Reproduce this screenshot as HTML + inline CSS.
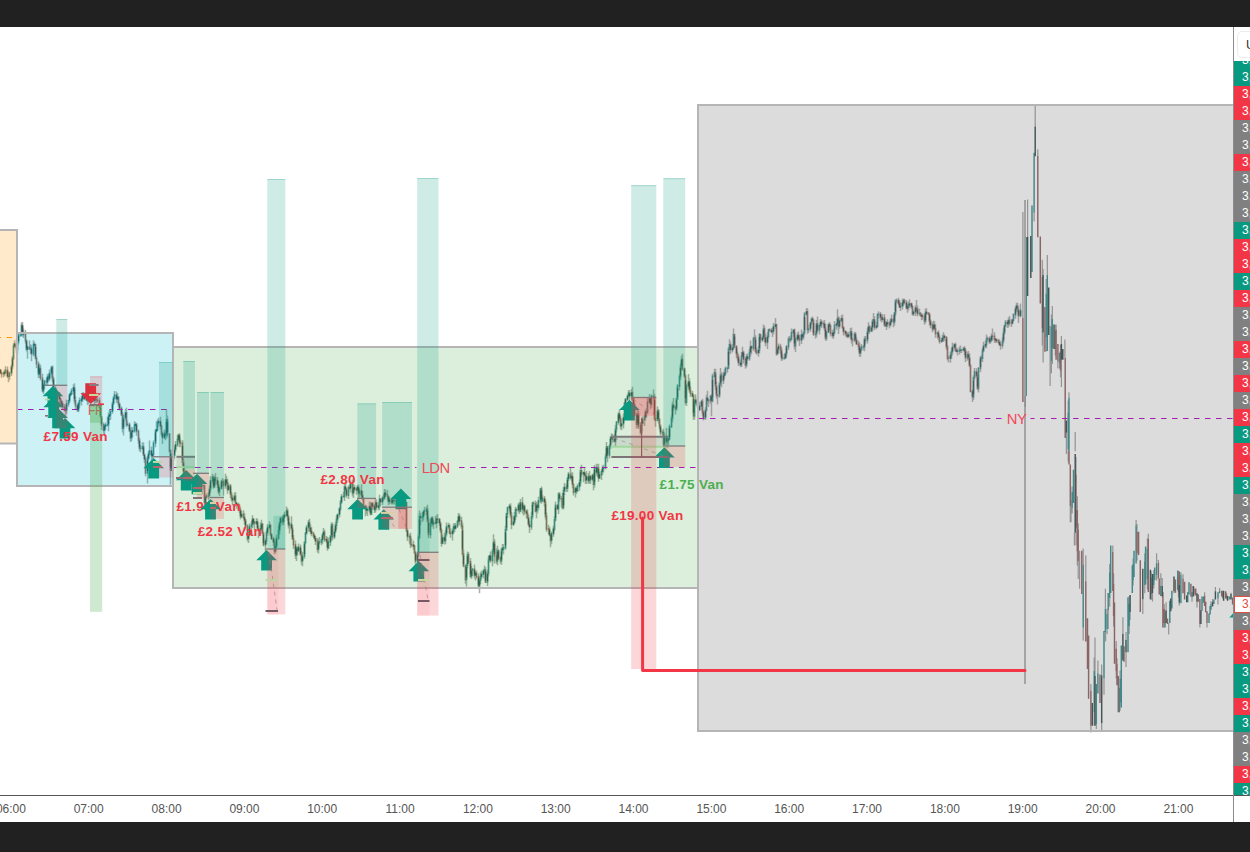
<!DOCTYPE html>
<html><head><meta charset="utf-8"><title>chart</title>
<style>
html,body{margin:0;padding:0;}
body{width:1250px;height:852px;position:relative;overflow:hidden;background:#fff;font-family:"Liberation Sans",sans-serif;}
#top{position:absolute;left:0;top:0;width:1250px;height:27px;background:#212121;}
#bot{position:absolute;left:0;top:822px;width:1250px;height:30px;background:#212121;}
#chart{position:absolute;left:0;top:27px;width:1233px;height:768px;overflow:hidden;}
#chart svg{position:absolute;left:0;top:-27px;}
#vline{position:absolute;left:1233px;top:27px;width:1px;height:795px;background:#8c8c8c;}
#hline{position:absolute;left:0;top:795px;width:1250px;height:1px;background:#555;}
#paxis{position:absolute;left:1234px;top:27px;width:16px;height:768px;overflow:hidden;background:#fff;}
.pl{position:absolute;left:0;width:40px;height:17px;line-height:16px;font-size:12px;color:#fff;padding-left:8px;box-sizing:border-box;white-space:nowrap;}
.pl.cur{background:#fff;color:#e0503f;border:1px solid #e0503f;line-height:14px;padding-left:7px;}
#usd{position:absolute;left:2.5px;top:3.5px;width:40px;height:27px;border:1px solid #ececee;border-radius:5px;box-sizing:border-box;font-size:12.5px;line-height:26px;color:#2e2e2e;padding-left:8.6px;background:#fff;}
.tl{position:absolute;top:797px;width:40px;height:24px;line-height:24px;text-align:center;font-size:12px;color:#555;}
</style></head><body>
<div id="chart"><svg width="1233" height="852" viewBox="0 0 1233 852" font-family="Liberation Sans, sans-serif">
<path d="M0.5 369.0V374.1M1.5 371.6V377.7M3.5 371.4V377.3M4.5 369.7V376.2M5.5 366.3V374.3M7.5 366.5V377.8M8.5 372.1V382.3M9.5 371.8V380.0M11.5 364.8V376.1M12.5 355.8V368.9M13.5 343.5V359.9M14.5 340.4V347.5M16.5 339.0V353.0M17.5 340.7V353.3M18.5 333.4V344.4M20.5 332.9V337.0M21.5 322.3V336.3M22.5 322.1V336.8M23.5 328.8V338.1M25.5 330.1V343.6M26.5 339.3V351.5M27.5 345.5V358.7M29.5 340.6V349.8M30.5 344.1V353.9M31.5 345.0V361.3M33.5 340.3V356.3M34.5 342.0V347.3M35.5 343.8V359.6M36.5 356.2V368.2M38.5 361.3V377.9M39.5 363.8V378.0M40.5 364.7V380.4M42.5 373.8V392.5M43.5 383.5V394.0M44.5 379.7V388.7M46.5 377.6V385.4M47.5 374.1V385.6M48.5 373.5V380.9M49.5 369.5V381.3M51.5 366.2V377.8M52.5 365.4V382.3M53.5 376.6V391.2M55.5 385.6V394.3M56.5 388.7V396.7M57.5 391.3V397.4M59.5 392.0V403.0M60.5 397.7V404.7M61.5 399.6V406.3M62.5 401.3V408.9M64.5 404.0V411.5M65.5 406.7V417.3M66.5 399.7V414.1M68.5 399.8V406.7M69.5 393.4V403.1M70.5 391.5V396.6M71.5 388.2V394.7M73.5 384.3V394.8M74.5 383.2V403.9M75.5 396.3V409.6M77.5 403.7V412.0M78.5 401.7V412.3M79.5 397.6V407.8M81.5 396.2V405.6M82.5 392.5V402.1M83.5 392.0V399.6M84.5 396.3V400.3M86.5 397.1V400.9M87.5 397.8V404.9M88.5 397.6V404.2M90.5 396.8V402.9M91.5 396.5V402.7M92.5 396.3V402.3M94.5 398.0V404.9M95.5 397.2V403.1M96.5 397.1V403.1M97.5 397.2V403.1M99.5 397.3V408.8M100.5 403.1V417.8M101.5 415.8V429.9M103.5 422.4V433.5M104.5 423.9V434.6M105.5 422.4V430.0M107.5 416.8V426.4M108.5 412.6V431.3M109.5 409.7V420.0M110.5 410.2V420.0M112.5 401.8V413.7M113.5 395.9V405.2M114.5 391.1V399.2M116.5 391.4V402.9M117.5 393.0V403.3M118.5 396.3V406.7M119.5 402.5V410.5M121.5 406.4V416.0M122.5 412.0V432.5M123.5 414.7V435.6M125.5 408.9V420.9M126.5 407.7V427.3M127.5 420.7V426.3M129.5 422.7V431.9M130.5 428.5V441.9M131.5 427.1V441.2M132.5 427.3V437.6M134.5 421.2V432.7M135.5 422.0V426.6M136.5 422.9V435.8M138.5 429.4V443.8M139.5 437.5V451.2M140.5 445.0V452.3M142.5 442.2V450.1M143.5 442.4V455.9M144.5 453.6V463.1M145.5 457.3V476.3M147.5 456.1V483.6M148.5 451.0V460.5M149.5 440.5V455.2M151.5 446.6V462.3M152.5 453.1V459.3M153.5 440.4V457.1M155.5 429.0V447.3M156.5 421.3V432.8M157.5 419.5V431.0M158.5 417.7V426.7M160.5 416.7V429.4M161.5 424.8V436.1M162.5 431.6V444.0M164.5 429.6V438.9M165.5 430.5V440.3M166.5 409.5V438.8M167.5 415.6V437.2M169.5 433.3V453.1M170.5 449.2V484.7M171.5 452.9V471.3M173.5 452.6V461.2M174.5 446.3V458.6M175.5 441.0V452.2M177.5 435.1V446.7M178.5 433.7V440.8M179.5 433.3V447.3M180.5 439.6V446.8M182.5 440.3V465.4M183.5 458.9V474.2M184.5 467.8V476.3M186.5 473.7V477.4M187.5 474.8V482.0M188.5 476.0V482.7M190.5 476.7V483.3M191.5 477.5V484.0M192.5 478.2V484.0M193.5 478.3V487.6M195.5 482.0V487.6M196.5 482.1V487.3M197.5 481.9V486.9M199.5 481.7V486.6M200.5 481.4V486.3M201.5 481.2V489.5M203.5 484.6V489.2M204.5 484.4V504.9M205.5 494.8V505.0M206.5 493.6V498.2M208.5 491.9V500.5M209.5 485.5V498.8M210.5 476.3V492.3M212.5 473.7V482.9M213.5 475.4V488.7M214.5 475.6V487.7M215.5 473.1V484.3M217.5 476.9V488.1M218.5 480.8V494.3M219.5 487.3V496.0M221.5 479.8V489.6M222.5 477.9V486.3M223.5 479.4V495.6M225.5 473.8V488.8M226.5 476.1V485.3M227.5 478.7V493.7M228.5 482.7V490.6M230.5 484.0V498.1M231.5 491.8V501.4M232.5 495.2V505.6M234.5 492.7V502.0M235.5 492.0V504.4M236.5 502.1V508.7M238.5 502.8V510.0M239.5 504.2V512.9M240.5 507.3V519.3M241.5 511.2V518.1M243.5 510.2V518.5M244.5 513.1V524.3M245.5 519.1V529.4M247.5 524.3V541.2M248.5 532.2V543.0M249.5 523.5V535.9M251.5 521.0V530.7M252.5 515.2V528.1M253.5 518.0V525.4M254.5 520.9V529.3M256.5 517.9V524.9M257.5 519.0V529.8M258.5 525.6V537.9M260.5 522.2V533.8M261.5 519.7V532.6M262.5 522.9V535.3M263.5 531.4V546.2M265.5 538.3V553.3M266.5 529.8V544.3M267.5 524.0V535.7M269.5 521.3V529.8M270.5 524.0V536.1M271.5 532.9V539.8M273.5 536.7V546.1M274.5 539.4V554.3M275.5 543.0V553.6M276.5 534.7V548.2M278.5 526.3V539.8M279.5 521.8V534.9M280.5 516.7V526.7M282.5 515.6V524.9M283.5 514.0V525.3M284.5 511.8V518.6M286.5 506.6V516.2M287.5 508.0V520.7M288.5 515.2V528.4M289.5 522.1V533.6M291.5 516.3V530.5M292.5 525.3V540.1M293.5 535.0V549.1M295.5 540.5V558.9M296.5 546.7V561.0M297.5 546.4V555.3M298.5 543.6V552.2M300.5 544.4V555.6M301.5 551.1V564.7M302.5 552.0V566.3M304.5 541.5V558.7M305.5 531.9V544.5M306.5 525.3V534.8M308.5 519.9V531.7M309.5 518.8V531.7M310.5 524.3V534.2M311.5 527.0V536.3M313.5 531.7V537.4M314.5 533.9V539.4M315.5 536.0V545.0M317.5 538.1V552.5M318.5 538.4V553.6M319.5 537.0V544.2M321.5 538.8V545.3M322.5 533.5V544.1M323.5 527.9V538.6M324.5 529.7V542.1M326.5 536.0V543.2M327.5 537.1V550.7M328.5 537.7V548.9M330.5 535.1V546.0M331.5 522.2V539.6M332.5 522.7V540.6M334.5 528.7V538.9M335.5 521.7V533.0M336.5 515.4V529.4M337.5 513.6V523.1M339.5 507.0V517.6M340.5 500.1V510.9M341.5 494.0V503.9M343.5 491.8V497.6M344.5 483.2V500.9M345.5 482.7V492.7M346.5 488.1V497.8M348.5 485.8V499.0M349.5 484.6V490.3M350.5 481.5V492.6M352.5 479.5V496.6M353.5 483.7V498.0M354.5 485.0V491.3M356.5 487.4V494.7M357.5 484.9V491.1M358.5 484.4V497.6M359.5 487.5V498.3M361.5 484.2V497.9M362.5 491.0V500.6M363.5 497.3V507.9M365.5 504.7V516.3M366.5 505.6V513.9M367.5 506.9V516.0M369.5 501.5V512.1M370.5 502.3V515.6M371.5 502.0V515.0M372.5 502.0V510.1M374.5 504.1V512.9M375.5 499.3V512.6M376.5 499.5V509.4M378.5 502.1V510.3M379.5 494.7V510.2M380.5 498.0V506.6M382.5 496.2V504.9M383.5 494.6V500.3M384.5 489.1V499.7M385.5 489.5V497.0M387.5 490.0V500.5M388.5 495.6V505.3M389.5 497.4V504.2M391.5 497.8V504.5M392.5 497.3V504.3M393.5 496.8V504.7M394.5 496.7V504.5M396.5 496.6V504.2M397.5 500.0V503.9M398.5 499.7V503.5M400.5 499.5V503.0M401.5 499.1V505.9M402.5 498.5V505.3M404.5 498.0V505.0M405.5 501.4V505.3M406.5 501.8V531.9M407.5 528.5V541.1M409.5 533.7V543.6M410.5 532.8V548.0M411.5 538.2V547.3M413.5 540.7V549.7M414.5 544.7V553.7M415.5 550.9V565.1M417.5 551.7V566.3M418.5 534.3V556.7M419.5 510.5V539.2M420.5 512.8V525.3M422.5 512.0V521.9M423.5 509.9V520.6M424.5 506.9V514.4M426.5 506.5V515.3M427.5 504.8V522.8M428.5 517.3V538.0M430.5 519.1V538.4M431.5 516.8V526.7M432.5 516.2V526.7M433.5 520.2V529.0M435.5 516.1V524.6M436.5 515.4V528.3M437.5 514.0V522.9M439.5 518.3V526.2M440.5 521.7V532.9M441.5 528.4V546.7M442.5 534.8V544.3M444.5 532.8V544.6M445.5 530.1V544.3M446.5 522.5V536.5M448.5 522.7V528.8M449.5 523.8V534.3M450.5 528.6V537.8M452.5 528.4V540.6M453.5 523.5V534.3M454.5 523.0V532.3M455.5 523.0V529.8M457.5 520.0V528.0M458.5 512.9V525.5M459.5 513.7V525.3M461.5 516.8V529.0M462.5 522.6V555.8M463.5 549.5V567.2M465.5 564.6V583.8M466.5 563.5V586.6M467.5 551.6V568.3M468.5 551.9V563.9M470.5 558.1V578.0M471.5 566.0V579.0M472.5 568.2V575.9M474.5 564.4V578.4M475.5 570.9V580.6M476.5 570.5V578.8M478.5 573.6V587.2M479.5 576.7V593.3M480.5 572.2V584.1M481.5 570.7V579.5M483.5 569.1V578.3M484.5 565.6V572.6M485.5 567.0V583.0M487.5 569.7V585.9M488.5 555.9V576.5M489.5 554.7V562.5M490.5 551.4V562.5M492.5 549.0V566.3M493.5 534.3V555.4M494.5 538.9V563.6M496.5 548.2V563.9M497.5 545.7V565.3M498.5 549.3V559.9M500.5 556.4V564.0M501.5 547.6V564.8M502.5 544.1V553.3M503.5 544.3V554.6M505.5 525.7V549.8M506.5 512.8V531.1M507.5 506.5V518.1M509.5 504.1V511.6M510.5 503.3V518.1M511.5 511.9V529.3M513.5 516.2V526.0M514.5 511.9V524.0M515.5 506.7V520.1M516.5 507.8V517.3M518.5 502.9V512.6M519.5 502.1V514.0M520.5 499.1V512.0M522.5 497.0V513.6M523.5 505.0V515.6M524.5 504.6V514.4M526.5 509.4V518.3M527.5 509.3V519.3M528.5 514.5V525.5M529.5 520.7V532.9M531.5 512.3V530.1M532.5 501.7V519.3M533.5 501.3V506.0M535.5 500.6V512.4M536.5 502.1V518.3M537.5 501.6V513.6M538.5 496.7V510.4M540.5 488.0V503.1M541.5 486.4V503.7M542.5 494.9V501.9M544.5 495.9V506.4M545.5 499.2V519.6M546.5 512.5V531.7M548.5 524.7V534.0M549.5 526.7V536.3M550.5 533.2V547.3M551.5 531.4V544.3M553.5 525.6V536.8M554.5 516.3V530.9M555.5 501.5V521.5M557.5 504.0V509.9M558.5 492.4V513.9M559.5 492.0V502.1M561.5 496.1V507.6M562.5 492.8V509.6M563.5 487.0V509.3M564.5 482.9V495.0M566.5 483.7V492.1M567.5 476.9V492.0M568.5 471.9V481.0M570.5 468.1V479.4M571.5 472.5V481.0M572.5 472.3V488.3M573.5 483.4V495.4M575.5 486.9V497.6M576.5 485.9V494.0M577.5 483.8V492.1M579.5 479.5V490.7M580.5 467.0V486.3M581.5 464.7V476.7M583.5 471.5V482.3M584.5 468.2V476.8M585.5 472.8V484.0M586.5 471.1V484.1M588.5 473.0V484.0M589.5 471.0V483.6M590.5 475.5V484.0M592.5 473.8V480.8M593.5 472.9V490.3M594.5 464.9V487.8M596.5 463.8V475.5M597.5 464.3V477.3M598.5 463.7V481.7M599.5 471.7V479.0M601.5 469.7V479.9M602.5 465.6V474.9M603.5 464.7V472.6M605.5 453.7V469.6M606.5 442.0V458.6M607.5 445.9V462.3M609.5 444.4V458.6M610.5 436.1V449.0M611.5 433.3V440.5M612.5 434.1V442.7M614.5 434.2V442.4M615.5 424.8V445.9M616.5 420.9V432.4M618.5 412.2V424.8M619.5 409.6V420.4M620.5 415.5V429.3M621.5 418.5V430.2M623.5 413.5V428.6M624.5 402.3V420.5M625.5 397.9V405.6M627.5 394.2V401.1M628.5 390.3V397.3M629.5 390.0V399.8M631.5 388.9V400.3M632.5 386.7V400.7M633.5 396.8V406.5M634.5 402.7V416.2M636.5 412.5V428.6M637.5 409.1V428.6M638.5 410.6V429.0M640.5 422.0V434.7M641.5 422.4V434.7M642.5 416.4V424.4M644.5 415.0V425.9M645.5 409.4V420.4M646.5 408.8V417.6M647.5 398.3V414.1M649.5 393.9V403.4M650.5 396.7V409.3M651.5 394.4V407.7M653.5 389.6V399.6M654.5 393.7V420.8M655.5 415.0V426.7M657.5 406.6V421.2M658.5 409.0V423.6M659.5 418.1V429.6M660.5 424.2V435.4M662.5 429.8V437.0M663.5 428.8V446.3M664.5 432.7V448.5M666.5 427.7V445.3M667.5 438.7V448.0M668.5 436.8V445.3M669.5 424.4V440.3M671.5 415.5V427.8M672.5 401.6V422.4M673.5 398.0V410.6M675.5 406.3V414.6M676.5 397.2V410.7M677.5 384.1V400.1M679.5 374.0V390.5M680.5 363.7V380.3M681.5 355.8V369.9M682.5 353.7V371.1M684.5 367.5V378.0M685.5 374.5V405.0M686.5 383.6V406.1M688.5 374.1V389.3M689.5 378.3V393.1M690.5 386.4V397.0M692.5 391.0V397.4M693.5 394.6V420.0M694.5 400.6V419.6M695.5 394.3V405.7M697.5 396.7V407.8M698.5 401.7V411.7M699.5 401.9V410.7M701.5 400.2V410.2M702.5 398.8V415.6M703.5 409.9V420.5M705.5 407.2V420.0M706.5 394.7V411.5M707.5 390.7V404.6M708.5 399.3V407.1M710.5 395.0V403.9M711.5 393.9V416.3M712.5 373.5V402.3M714.5 368.8V377.2M715.5 368.8V389.9M716.5 381.6V398.5M717.5 393.9V404.6M719.5 382.2V397.8M720.5 368.1V385.4M721.5 372.0V387.3M723.5 371.8V384.1M724.5 369.2V378.3M725.5 366.6V375.6M727.5 366.5V372.7M728.5 347.1V369.1M729.5 339.3V353.1M730.5 341.4V354.0M732.5 344.2V352.5M733.5 328.5V349.9M734.5 333.5V348.0M736.5 344.9V358.2M737.5 351.5V360.8M738.5 354.3V365.9M740.5 359.4V367.2M741.5 352.1V367.1M742.5 346.8V357.1M743.5 350.8V363.4M745.5 357.3V368.7M746.5 354.1V367.6M747.5 353.4V360.6M749.5 348.8V360.8M750.5 340.6V356.8M751.5 345.5V354.3M753.5 336.8V351.1M754.5 329.3V340.9M755.5 335.2V352.9M756.5 347.7V354.7M758.5 346.0V356.8M759.5 332.9V353.3M760.5 333.4V343.1M762.5 335.8V341.7M763.5 324.6V339.2M764.5 325.7V341.9M765.5 333.8V346.2M767.5 332.0V349.0M768.5 328.7V338.6M769.5 328.2V331.8M771.5 327.8V332.9M772.5 328.2V336.9M773.5 322.9V334.5M775.5 318.0V329.0M776.5 323.7V355.7M777.5 347.4V355.0M778.5 343.5V353.2M780.5 343.8V354.0M781.5 347.1V361.0M782.5 354.2V360.3M784.5 353.7V359.7M785.5 352.4V359.0M786.5 345.0V357.6M788.5 336.7V350.1M789.5 336.1V342.5M790.5 335.6V342.5M791.5 328.6V340.4M793.5 329.3V337.0M794.5 328.4V349.4M795.5 337.0V352.0M797.5 332.6V341.5M798.5 331.4V340.5M799.5 335.1V345.9M801.5 329.6V344.1M802.5 333.3V340.0M803.5 331.1V339.4M804.5 311.9V334.9M806.5 308.1V315.6M807.5 308.2V333.8M808.5 324.8V333.1M810.5 321.8V331.8M811.5 317.5V325.1M812.5 316.4V322.8M813.5 318.5V335.6M815.5 330.9V338.5M816.5 320.0V337.4M817.5 316.4V332.6M819.5 324.6V334.4M820.5 318.9V327.2M821.5 319.7V328.3M823.5 320.7V327.5M824.5 320.1V331.1M825.5 324.1V340.4M826.5 331.1V340.7M828.5 323.1V333.1M829.5 321.9V330.3M830.5 323.7V336.6M832.5 330.1V338.2M833.5 328.8V338.8M834.5 321.1V333.9M836.5 322.8V329.7M837.5 309.2V327.6M838.5 316.0V334.0M839.5 317.6V328.7M841.5 315.2V322.2M842.5 314.5V328.5M843.5 326.5V335.5M845.5 330.0V336.6M846.5 331.2V337.6M847.5 332.3V338.2M848.5 331.8V338.1M850.5 328.1V339.3M851.5 327.4V343.4M852.5 338.5V346.4M854.5 332.1V342.2M855.5 331.7V341.8M856.5 337.2V345.1M858.5 340.6V350.3M859.5 342.3V356.4M860.5 347.9V357.0M861.5 344.0V350.9M863.5 344.9V350.6M864.5 336.3V351.3M865.5 335.9V343.6M867.5 327.8V343.5M868.5 322.3V333.9M869.5 324.7V333.7M871.5 325.7V332.0M872.5 318.9V331.5M873.5 312.9V324.6M874.5 316.1V330.1M876.5 322.1V329.2M877.5 313.5V327.4M878.5 311.3V318.7M880.5 312.0V320.9M881.5 314.6V322.5M882.5 314.1V321.5M884.5 314.3V326.7M885.5 320.7V326.8M886.5 321.3V329.9M887.5 319.2V327.2M889.5 321.5V328.6M890.5 318.3V326.7M891.5 314.5V322.6M893.5 315.4V327.3M894.5 312.0V325.6M895.5 299.3V316.0M896.5 298.4V303.2M898.5 297.7V304.9M899.5 300.0V308.0M900.5 302.3V310.9M902.5 298.7V309.4M903.5 298.4V305.7M904.5 298.7V304.4M906.5 300.1V309.5M907.5 303.9V312.8M908.5 301.5V310.5M909.5 299.3V308.0M911.5 302.6V309.1M912.5 305.2V315.5M913.5 309.9V316.0M915.5 305.2V315.9M916.5 300.1V312.5M917.5 305.4V316.6M919.5 308.6V315.4M920.5 312.1V316.5M921.5 313.3V320.3M922.5 313.7V320.1M924.5 313.5V324.7M925.5 308.5V323.3M926.5 308.2V314.9M928.5 312.2V315.3M929.5 312.8V325.3M930.5 319.2V328.3M932.5 322.3V332.3M933.5 320.7V330.8M934.5 321.2V329.9M935.5 324.3V337.8M937.5 331.7V338.5M938.5 330.2V340.3M939.5 335.0V343.8M941.5 337.9V342.9M942.5 334.6V341.8M943.5 332.2V342.1M944.5 334.6V340.9M946.5 336.0V349.9M947.5 345.1V360.4M948.5 355.7V362.6M950.5 352.1V362.7M951.5 347.7V358.9M952.5 342.8V354.5M954.5 343.3V349.5M955.5 342.6V351.8M956.5 347.7V352.4M957.5 348.2V355.6M959.5 346.4V354.4M960.5 345.5V353.0M961.5 349.0V353.0M963.5 347.0V351.3M964.5 345.9V355.0M965.5 348.0V361.9M967.5 351.5V360.8M968.5 350.9V359.9M969.5 353.2V367.2M970.5 364.3V392.4M972.5 389.5V401.9M973.5 375.2V400.0M974.5 367.9V380.2M976.5 368.2V377.8M977.5 371.8V390.3M978.5 367.3V392.6M980.5 356.0V371.9M981.5 354.8V361.2M982.5 348.1V362.1M983.5 341.8V352.4M985.5 340.6V348.3M986.5 334.6V348.3M987.5 336.5V342.2M989.5 336.6V344.1M990.5 337.8V343.4M991.5 333.2V341.5M992.5 328.4V340.6M994.5 332.2V342.7M995.5 338.1V342.9M996.5 338.4V343.1M998.5 338.7V343.8M999.5 339.5V345.7M1000.5 341.5V349.8M1002.5 337.2V348.5M1003.5 328.4V343.6M1004.5 324.5V334.7M1005.5 319.9V327.1M1007.5 320.0V328.1M1008.5 317.5V327.5M1009.5 316.0V325.8M1011.5 318.8V326.9M1012.5 319.0V324.6M1013.5 313.2V321.0M1015.5 306.6V318.7M1016.5 302.8V312.0M1017.5 302.8V312.6M1018.5 306.2V323.0M1020.5 303.4V317.2" stroke="#9aa09c" stroke-width="1.5" stroke-opacity="0.85" fill="none"/>
<path d="M0.5 369.3V373.8M1.5 372.4V374.5M7.5 369.5V377.2M16.5 343.2V349.7M22.5 324.7V333.2M23.5 331.8V335.2M25.5 333.8V341.3M26.5 339.9V349.9M29.5 346.6V349.5M31.5 347.8V354.4M34.5 343.7V346.0M35.5 344.6V359.0M36.5 357.6V364.6M38.5 363.2V375.0M40.5 367.8V378.8M42.5 377.4V391.6M46.5 380.8V382.8M48.5 376.3V379.6M52.5 366.5V379.4M53.5 378.0V389.0M55.5 387.6V392.6M56.5 391.2V395.8M57.5 394.4V397.1M59.5 395.7V399.7M60.5 398.3V402.2M61.5 400.8V404.4M62.5 403.0V407.6M64.5 406.2V410.8M65.5 409.4V411.2M74.5 386.9V401.4M75.5 400.0V406.3M77.5 404.9V410.7M83.5 395.3V398.0M84.5 396.6V399.3M86.5 397.9V400.6M87.5 399.2V401.6M90.5 399.5V401.0M91.5 399.6V401.4M95.5 398.6V400.2M96.5 398.8V400.8M97.5 399.4V401.5M99.5 400.1V407.9M100.5 406.5V417.5M101.5 416.1V425.7M103.5 424.3V430.9M116.5 394.2V399.7M118.5 396.6V404.7M119.5 403.3V409.2M121.5 407.8V415.4M122.5 414.0V428.9M126.5 412.0V425.3M129.5 423.8V431.6M130.5 430.2V438.6M136.5 423.7V432.2M138.5 430.8V440.9M139.5 439.5V448.9M140.5 447.5V449.1M143.5 446.0V455.6M144.5 454.2V459.8M145.5 458.4V473.7M151.5 449.9V456.4M160.5 420.7V426.8M161.5 425.4V434.2M162.5 432.8V438.3M165.5 432.8V435.8M167.5 419.0V435.0M169.5 433.6V451.5M170.5 450.1V471.0M179.5 434.4V443.4M180.5 442.0V443.9M182.5 442.5V463.1M183.5 461.7V472.6M184.5 471.2V475.4M186.5 474.0V477.1M187.5 475.7V478.8M188.5 477.4V480.1M190.5 478.7V481.4M191.5 480.0V482.7M192.5 481.3V483.3M193.5 481.9V484.0M195.5 482.6V484.6M196.5 483.2V485.0M197.5 483.6V485.3M199.5 483.9V485.6M200.5 484.2V486.0M201.5 484.6V486.3M203.5 484.9V486.6M204.5 485.2V502.9M213.5 476.5V487.4M215.5 477.3V481.1M217.5 479.7V485.5M218.5 484.1V492.4M222.5 480.7V482.7M223.5 481.3V486.6M226.5 479.1V483.7M227.5 482.3V490.3M230.5 485.1V494.9M231.5 493.5V498.9M232.5 497.5V500.8M235.5 495.5V503.8M236.5 502.4V505.1M238.5 503.7V507.1M239.5 505.7V510.6M240.5 509.2V517.2M243.5 513.7V518.2M244.5 516.8V521.0M245.5 519.6V526.9M247.5 525.5V539.3M253.5 518.6V523.2M254.5 521.8V523.9M257.5 521.0V529.5M258.5 528.1V531.2M262.5 523.5V534.0M263.5 532.6V545.5M270.5 524.7V535.1M271.5 533.7V539.5M273.5 538.1V542.8M274.5 541.4V551.7M282.5 517.8V522.6M287.5 509.9V517.5M288.5 516.1V525.8M291.5 523.5V529.2M292.5 527.8V539.5M293.5 538.1V545.5M295.5 544.1V556.0M297.5 547.6V551.3M300.5 546.6V555.3M301.5 553.9V561.4M309.5 521.8V528.7M310.5 527.3V532.0M311.5 530.6V534.1M313.5 532.7V536.4M314.5 535.0V539.1M315.5 537.7V541.7M317.5 540.3V550.0M319.5 541.2V542.9M324.5 531.6V539.9M326.5 538.5V541.6M327.5 540.2V548.6M332.5 524.3V537.6M345.5 486.3V490.1M346.5 488.7V495.9M349.5 486.9V489.0M352.5 483.7V493.7M354.5 487.0V489.7M356.5 488.3V490.8M358.5 486.4V494.3M361.5 490.0V496.0M362.5 494.6V499.3M363.5 497.9V507.2M365.5 505.8V509.5M366.5 508.1V511.0M370.5 505.7V514.6M372.5 502.9V506.9M374.5 505.5V510.3M376.5 502.0V508.1M380.5 498.6V502.6M385.5 492.3V495.6M387.5 494.2V497.3M388.5 495.9V502.3M391.5 499.2V503.2M393.5 499.3V501.1M394.5 499.7V501.6M396.5 500.2V501.9M397.5 500.5V502.3M398.5 500.9V502.6M400.5 501.2V502.7M404.5 501.3V503.1M405.5 501.7V504.0M406.5 502.6V531.3M407.5 529.9V537.6M410.5 535.7V545.1M411.5 543.7V545.7M413.5 544.3V547.1M414.5 545.7V553.4M415.5 552.0V561.9M420.5 516.1V518.3M427.5 508.5V521.8M428.5 520.4V535.2M432.5 517.4V524.7M435.5 521.9V523.9M437.5 518.2V520.0M439.5 518.6V523.9M440.5 522.5V531.2M441.5 529.8V544.0M444.5 536.8V541.3M449.5 524.9V533.5M450.5 532.1V534.2M454.5 526.3V528.9M459.5 515.7V521.7M461.5 520.3V527.0M462.5 525.6V554.5M463.5 553.1V566.6M465.5 565.2V580.2M468.5 554.1V562.3M470.5 560.9V577.0M474.5 568.5V575.9M476.5 572.4V577.5M478.5 576.1V586.6M485.5 569.3V582.7M490.5 555.0V561.2M494.5 541.4V556.6M496.5 555.2V561.7M498.5 549.9V559.0M500.5 557.6V561.6M510.5 505.5V515.8M511.5 514.4V525.0M516.5 508.9V510.7M519.5 504.6V511.4M522.5 501.9V510.0M524.5 505.5V512.2M526.5 510.8V514.1M527.5 512.7V518.4M528.5 517.0V525.2M529.5 523.8V527.5M533.5 502.4V504.3M535.5 502.9V511.7M537.5 504.4V508.1M541.5 488.3V501.6M544.5 497.8V503.1M545.5 501.7V517.0M546.5 515.6V529.7M548.5 528.3V529.9M549.5 528.5V535.7M550.5 534.3V541.3M557.5 504.8V509.6M559.5 493.4V499.5M561.5 498.1V499.6M562.5 498.2V508.3M566.5 486.5V489.1M570.5 473.6V478.5M572.5 475.7V485.1M573.5 483.7V492.9M576.5 487.7V491.5M581.5 470.0V474.4M584.5 472.1V475.9M585.5 474.5V480.8M588.5 475.8V481.4M590.5 475.8V480.2M593.5 474.7V484.9M596.5 466.9V473.3M598.5 467.3V478.7M607.5 446.2V455.7M612.5 436.6V440.0M614.5 438.6V442.1M619.5 413.3V419.2M620.5 417.8V426.6M629.5 392.6V396.5M632.5 392.0V398.8M633.5 397.4V405.2M634.5 403.8V415.6M636.5 414.2V425.1M638.5 413.4V426.7M640.5 425.3V433.1M646.5 411.3V412.8M650.5 397.5V404.8M653.5 395.5V397.3M654.5 395.9V419.2M655.5 417.8V420.9M658.5 410.0V420.3M659.5 418.9V427.0M660.5 425.6V433.5M663.5 431.7V445.0M666.5 435.7V442.4M673.5 404.4V408.0M675.5 406.6V409.4M682.5 358.8V369.5M684.5 368.1V377.0M685.5 375.6V402.9M689.5 381.1V391.2M690.5 389.8V394.5M692.5 393.1V396.8M693.5 395.4V416.4M697.5 399.2V406.2M698.5 404.8V410.4M702.5 400.8V413.0M703.5 411.6V418.5M707.5 397.5V401.0M708.5 399.6V401.6M711.5 395.8V401.4M715.5 371.9V386.7M716.5 385.3V395.9M717.5 394.5V396.5M721.5 374.2V381.2M730.5 344.0V350.5M734.5 334.1V347.4M736.5 346.0V354.6M737.5 353.2V357.9M738.5 356.5V363.6M740.5 362.2V365.5M743.5 351.7V360.1M745.5 358.7V365.7M747.5 356.1V359.3M751.5 346.1V348.8M755.5 337.4V351.9M756.5 350.5V353.6M760.5 334.2V340.4M764.5 328.2V338.3M765.5 336.9V343.3M769.5 329.3V330.9M771.5 329.5V332.6M776.5 324.0V354.4M780.5 345.8V351.0M781.5 349.6V358.7M789.5 338.4V340.5M794.5 329.6V346.5M798.5 334.6V339.6M799.5 338.2V340.8M802.5 333.9V337.4M807.5 311.0V330.2M812.5 318.3V321.8M813.5 320.4V335.2M817.5 323.1V330.7M821.5 321.4V324.6M824.5 323.0V328.9M825.5 327.5V338.8M829.5 323.9V327.1M830.5 325.7V334.0M832.5 332.6V336.3M838.5 317.7V327.1M842.5 318.0V328.2M843.5 326.8V332.3M845.5 330.9V334.1M846.5 332.7V335.6M847.5 334.2V336.9M851.5 331.1V340.5M852.5 339.1V340.6M855.5 333.4V340.9M856.5 339.5V344.8M858.5 343.4V347.0M859.5 345.6V353.8M865.5 338.4V340.7M869.5 325.9V331.7M874.5 318.9V327.9M880.5 313.4V318.0M881.5 316.6V319.9M884.5 317.3V325.7M885.5 324.3V326.5M887.5 321.9V324.6M889.5 323.2V325.4M893.5 318.7V322.7M898.5 299.8V303.9M899.5 302.5V307.7M904.5 299.8V303.1M906.5 301.7V308.8M911.5 302.9V307.5M912.5 306.1V314.6M916.5 307.2V309.9M917.5 308.5V314.2M920.5 312.7V315.8M921.5 314.4V316.7M922.5 315.3V317.2M924.5 315.8V321.7M926.5 311.5V313.9M928.5 312.5V315.0M929.5 313.6V322.0M930.5 320.6V325.7M932.5 324.3V329.5M934.5 324.2V329.3M935.5 327.9V334.2M938.5 332.2V338.1M939.5 336.7V342.0M944.5 335.5V338.3M946.5 336.9V347.9M947.5 346.5V359.1M948.5 357.7V359.1M955.5 343.9V350.8M956.5 349.4V352.1M960.5 349.2V351.1M964.5 347.8V351.4M965.5 350.0V358.5M968.5 354.0V358.3M969.5 356.9V366.3M970.5 364.9V392.1M972.5 390.7V397.4M976.5 371.0V376.5M977.5 375.1V389.1M981.5 356.9V358.9M989.5 337.7V342.2M992.5 335.4V337.0M994.5 335.6V339.8M995.5 338.4V340.7M996.5 339.3V341.5M998.5 340.1V342.8M999.5 341.4V345.4M1000.5 344.0V345.9M1007.5 321.7V324.5M1009.5 319.7V323.6M1011.5 322.2V323.7M1017.5 305.3V310.6M1018.5 309.2V316.6" stroke="#8a6254" stroke-width="1.5" stroke-opacity="0.9" fill="none"/>
<path d="M3.5 372.9V374.5M4.5 371.6V374.3M5.5 369.5V373.0M8.5 375.7V377.2M9.5 372.4V377.1M11.5 365.9V373.8M12.5 357.5V367.3M13.5 345.8V358.9M14.5 343.2V347.2M17.5 341.0V349.7M18.5 334.3V342.4M20.5 334.3V335.7M21.5 324.7V335.7M27.5 346.6V349.9M30.5 347.8V349.5M33.5 343.7V354.4M39.5 367.8V375.0M43.5 384.0V391.6M44.5 380.8V385.4M47.5 376.3V382.8M49.5 372.8V379.6M51.5 366.5V374.2M66.5 403.0V411.2M68.5 400.1V404.4M69.5 394.3V401.5M70.5 393.0V395.7M71.5 390.2V394.4M73.5 386.9V391.6M78.5 402.8V410.7M79.5 400.1V404.2M81.5 398.4V401.5M82.5 395.3V399.8M88.5 399.5V401.6M92.5 399.9V401.4M94.5 398.6V401.3M104.5 425.4V430.9M105.5 424.4V426.8M107.5 424.0V425.8M108.5 415.7V425.4M109.5 414.1V417.1M110.5 410.7V415.5M112.5 402.9V412.1M113.5 397.5V404.3M114.5 394.2V398.9M117.5 396.6V399.7M123.5 417.2V428.9M125.5 412.0V418.6M127.5 423.8V425.3M131.5 430.9V438.6M132.5 430.0V432.3M134.5 424.6V431.4M135.5 423.7V426.0M142.5 446.0V449.1M147.5 457.8V473.7M148.5 453.2V459.2M149.5 449.9V454.6M152.5 453.4V456.4M153.5 442.4V454.8M155.5 430.4V443.8M156.5 429.0V431.8M157.5 422.0V430.4M158.5 420.7V423.4M164.5 432.8V438.3M166.5 419.0V435.8M171.5 456.5V471.0M173.5 454.6V457.9M174.5 448.8V456.0M175.5 444.1V450.2M177.5 438.7V445.5M178.5 434.4V440.1M205.5 496.2V502.9M206.5 495.5V497.6M208.5 494.5V496.9M209.5 488.6V495.9M210.5 479.9V490.0M212.5 476.5V481.3M214.5 477.3V487.4M219.5 487.6V492.4M221.5 480.7V489.0M225.5 479.1V486.6M228.5 485.1V490.3M234.5 495.5V500.8M241.5 513.7V517.2M248.5 533.9V539.3M249.5 525.8V535.3M251.5 523.8V527.2M252.5 518.6V525.2M256.5 521.0V523.9M260.5 528.2V531.2M261.5 523.5V529.6M265.5 540.0V545.5M266.5 532.0V541.4M267.5 526.8V533.4M269.5 524.7V528.2M275.5 545.5V551.7M276.5 537.7V546.9M278.5 530.0V539.1M279.5 522.4V531.4M280.5 517.8V523.8M283.5 516.2V522.6M284.5 514.5V517.6M286.5 509.9V515.9M289.5 523.5V525.8M296.5 547.6V556.0M298.5 546.6V551.3M302.5 555.3V561.4M304.5 541.8V556.7M305.5 532.8V543.2M306.5 526.7V534.2M308.5 521.8V528.1M318.5 541.2V550.0M321.5 539.1V542.9M322.5 534.3V540.5M323.5 531.6V535.7M328.5 541.3V548.6M330.5 535.6V542.7M331.5 524.3V537.0M334.5 531.0V537.6M335.5 524.5V532.4M336.5 518.8V525.9M337.5 513.9V520.2M339.5 507.9V515.3M340.5 501.5V509.3M341.5 495.9V502.9M343.5 495.8V497.3M344.5 486.3V497.2M348.5 486.9V495.9M350.5 483.7V489.0M353.5 487.0V493.7M357.5 486.4V490.8M359.5 490.0V494.3M367.5 509.1V511.0M369.5 505.7V510.5M371.5 502.9V514.6M375.5 502.0V510.3M378.5 505.2V508.1M379.5 498.6V506.6M382.5 497.3V502.6M383.5 497.3V498.7M384.5 492.3V498.7M389.5 499.2V502.3M392.5 499.3V503.2M401.5 501.3V502.7M402.5 501.3V502.7M409.5 535.7V537.6M417.5 553.4V561.9M418.5 536.5V554.8M419.5 516.1V537.9M422.5 515.8V518.3M423.5 510.8V517.2M424.5 510.2V512.2M426.5 508.5V511.6M430.5 522.7V535.2M431.5 517.4V524.1M433.5 521.9V524.7M436.5 518.2V523.9M442.5 536.8V544.0M445.5 533.2V541.3M446.5 526.2V534.6M448.5 524.9V527.6M452.5 530.6V534.2M453.5 526.3V532.0M455.5 525.1V528.9M457.5 520.9V526.5M458.5 515.7V522.3M466.5 564.7V580.2M467.5 554.1V566.1M471.5 569.6V577.0M472.5 568.5V571.0M475.5 572.4V575.9M479.5 579.7V586.6M480.5 575.8V581.1M481.5 573.5V577.2M483.5 570.2V574.9M484.5 569.3V571.6M487.5 572.5V582.7M488.5 559.2V573.9M489.5 555.0V560.6M492.5 550.5V561.2M493.5 541.4V551.9M497.5 549.9V561.7M501.5 549.3V561.6M502.5 547.8V550.7M503.5 547.1V549.2M505.5 529.1V548.5M506.5 513.1V530.5M507.5 507.3V514.5M509.5 505.5V508.7M513.5 521.3V525.0M514.5 515.5V522.7M515.5 508.9V516.9M518.5 504.6V510.7M520.5 501.9V511.4M523.5 505.5V510.0M531.5 515.9V527.5M532.5 502.4V517.3M536.5 504.4V511.7M538.5 500.1V508.1M540.5 488.3V501.5M542.5 497.8V501.6M551.5 533.1V541.3M553.5 527.8V534.5M554.5 519.1V529.2M555.5 504.8V520.5M558.5 493.4V509.6M563.5 490.0V508.3M564.5 486.5V491.4M567.5 478.0V489.1M568.5 473.6V479.4M571.5 475.7V478.5M575.5 487.7V492.9M577.5 485.8V491.5M579.5 482.0V487.2M580.5 470.0V483.4M583.5 472.1V474.4M586.5 475.8V480.8M589.5 475.8V481.4M592.5 474.7V480.2M594.5 466.9V484.9M597.5 467.3V473.3M599.5 474.1V478.7M601.5 470.9V475.5M602.5 467.7V472.3M603.5 466.9V469.1M605.5 456.5V468.3M606.5 446.2V457.9M609.5 445.3V455.7M610.5 437.5V446.7M611.5 436.6V438.9M615.5 428.4V442.1M616.5 421.5V429.8M618.5 413.3V422.9M621.5 423.2V426.6M623.5 416.8V424.6M624.5 402.6V418.2M625.5 398.7V404.0M627.5 395.6V400.1M628.5 392.6V397.0M631.5 392.0V396.5M637.5 413.4V425.1M641.5 422.7V433.1M642.5 418.9V424.1M644.5 416.5V420.3M645.5 411.3V417.9M647.5 401.4V412.8M649.5 397.5V402.8M651.5 395.5V404.8M657.5 410.0V420.9M662.5 431.7V433.5M664.5 435.7V445.0M667.5 439.4V442.4M668.5 437.9V440.8M669.5 426.1V439.3M671.5 417.8V427.5M672.5 404.4V419.2M676.5 398.1V409.4M677.5 385.5V399.5M679.5 376.0V386.9M680.5 366.2V377.4M681.5 358.8V367.6M686.5 385.3V402.9M688.5 381.1V386.7M694.5 402.0V416.4M695.5 399.2V403.4M699.5 405.6V410.4M701.5 400.8V407.0M705.5 409.4V418.5M706.5 397.5V410.8M710.5 395.8V401.6M712.5 375.5V401.4M714.5 371.9V376.9M719.5 383.3V396.5M720.5 374.2V384.7M723.5 374.6V381.2M724.5 372.6V376.0M725.5 367.8V374.0M727.5 367.4V369.2M728.5 348.5V368.8M729.5 344.0V349.9M732.5 347.2V350.5M733.5 334.1V348.6M741.5 355.4V365.5M742.5 351.7V356.8M746.5 356.1V365.7M749.5 351.8V359.3M750.5 346.1V353.2M753.5 337.9V348.8M754.5 337.4V339.3M758.5 349.3V353.6M759.5 334.2V350.7M762.5 337.2V340.4M763.5 328.2V338.6M767.5 335.6V343.3M768.5 329.3V337.0M772.5 330.5V332.6M773.5 325.7V331.9M775.5 324.0V327.1M777.5 348.2V354.4M778.5 345.8V349.6M782.5 357.3V358.7M784.5 357.3V358.7M785.5 353.0V358.7M786.5 346.1V354.4M788.5 338.4V347.5M790.5 338.3V340.5M791.5 332.0V339.7M793.5 329.6V333.4M795.5 338.5V346.5M797.5 334.6V339.9M801.5 333.9V340.8M803.5 332.2V337.4M804.5 313.6V333.6M806.5 311.0V315.0M808.5 328.2V330.2M810.5 322.1V329.6M811.5 318.3V323.5M815.5 333.4V335.2M816.5 323.1V334.8M819.5 325.1V330.7M820.5 321.4V326.5M823.5 323.0V324.6M826.5 331.4V338.8M828.5 323.9V332.8M833.5 331.9V336.3M834.5 324.7V333.3M836.5 323.3V326.1M837.5 317.7V324.7M839.5 319.9V327.1M841.5 318.0V321.3M848.5 334.3V336.9M850.5 331.1V335.7M854.5 333.4V340.6M860.5 348.2V353.8M861.5 346.3V349.6M863.5 346.3V347.7M864.5 338.4V347.7M867.5 330.9V340.7M868.5 325.9V332.3M871.5 326.9V331.7M872.5 320.6V328.3M873.5 318.9V322.0M876.5 325.4V327.9M877.5 313.8V326.8M878.5 313.4V315.2M882.5 317.3V319.9M886.5 321.9V326.5M890.5 320.6V325.4M891.5 318.7V322.0M894.5 312.3V322.7M895.5 300.2V313.7M896.5 299.8V301.6M900.5 305.4V307.7M902.5 302.3V306.8M903.5 299.8V303.7M907.5 306.1V308.8M908.5 304.3V307.5M909.5 302.9V305.7M913.5 311.3V314.6M915.5 307.2V312.7M919.5 312.7V314.2M925.5 311.5V321.7M933.5 324.2V329.5M937.5 332.2V334.2M941.5 340.1V342.0M942.5 337.4V341.5M943.5 335.5V338.8M950.5 354.6V359.1M951.5 350.8V356.0M952.5 346.5V352.2M954.5 343.9V347.9M957.5 350.4V352.1M959.5 349.2V351.8M961.5 349.3V351.1M963.5 347.8V350.7M967.5 354.0V358.5M973.5 376.9V397.4M974.5 371.0V378.3M978.5 367.6V389.1M980.5 356.9V369.0M982.5 350.1V358.9M983.5 345.4V351.5M985.5 343.7V346.8M986.5 338.2V345.1M987.5 337.7V339.6M990.5 339.5V342.2M991.5 335.4V340.9M1002.5 340.2V345.9M1003.5 332.0V341.6M1004.5 325.0V333.4M1005.5 321.7V326.4M1008.5 319.7V324.5M1012.5 319.3V323.7M1013.5 314.1V320.7M1015.5 308.0V315.5M1016.5 305.3V309.4M1020.5 309.5V316.6" stroke="#238585" stroke-width="1.5" stroke-opacity="0.9" fill="none"/>
<path d="M0.5 370.1V373.1M4.5 372.1V373.8M7.5 370.8V375.9M11.5 367.3V372.5M12.5 359.2V365.7M14.5 343.8V346.5M16.5 344.3V348.6M18.5 335.7V341.0M22.5 326.1V331.8M23.5 332.4V334.6M26.5 341.6V348.2M27.5 347.2V349.4M31.5 348.9V353.3M34.5 344.1V345.6M35.5 347.1V356.6M38.5 365.2V373.0M39.5 369.0V373.8M42.5 379.8V389.2M43.5 385.3V390.3M47.5 377.4V381.7M49.5 374.0V378.5M51.5 367.8V372.9M53.5 379.8V387.1M55.5 388.4V391.8M57.5 394.8V396.6M59.5 396.4V399.0M61.5 401.4V403.7M62.5 403.7V406.8M66.5 404.4V409.8M69.5 395.5V400.2M70.5 393.4V395.2M73.5 387.7V390.8M74.5 389.3V398.9M77.5 405.9V409.7M78.5 404.1V409.3M81.5 398.9V401.0M82.5 396.1V399.0M84.5 397.1V398.9M86.5 398.4V400.2M94.5 399.1V400.8M100.5 408.3V415.6M101.5 417.7V424.1M104.5 426.4V430.0M105.5 424.8V426.4M108.5 417.4V423.7M109.5 414.6V416.6M112.5 404.5V410.6M113.5 398.7V403.1M116.5 395.1V398.7M117.5 397.1V399.1M119.5 404.3V408.2M121.5 409.1V414.1M123.5 419.2V426.9M125.5 413.1V417.5M129.5 425.1V430.2M131.5 432.2V437.3M132.5 430.4V431.9M135.5 424.1V425.6M136.5 425.2V430.8M139.5 441.1V447.3M143.5 447.6V454.0M144.5 455.1V458.9M147.5 460.5V471.0M148.5 454.2V458.2M151.5 451.0V455.3M152.5 453.9V455.9M155.5 432.7V441.5M156.5 429.5V431.4M158.5 421.2V423.0M160.5 421.8V425.8M162.5 433.7V437.3M164.5 433.7V437.3M166.5 421.9V433.0M167.5 421.7V432.2M170.5 453.7V467.5M171.5 459.0V468.6M174.5 450.0V454.8M175.5 445.1V449.2M178.5 435.4V439.2M179.5 435.9V441.9M182.5 446.0V459.6M183.5 463.6V470.7M186.5 474.5V476.6M187.5 476.2V478.3M190.5 479.1V480.9M191.5 480.4V482.2M205.5 497.3V501.8M209.5 489.8V494.6M210.5 481.6V488.3M213.5 478.4V485.6M214.5 479.0V485.7M217.5 480.7V484.6M218.5 485.5V491.0M221.5 482.1V487.6M225.5 480.4V485.3M226.5 479.9V483.0M228.5 486.0V489.4M230.5 486.8V493.2M232.5 498.0V500.2M234.5 496.4V499.9M236.5 502.8V504.6M238.5 504.3V506.5M240.5 510.6V515.8M241.5 514.3V516.6M244.5 517.5V520.3M245.5 520.9V525.6M248.5 534.8V538.4M249.5 527.4V533.6M252.5 519.7V524.1M253.5 519.3V522.4M256.5 521.5V523.4M257.5 522.4V528.1M260.5 528.7V530.7M261.5 524.5V528.6M263.5 534.8V543.3M265.5 541.0V544.6M267.5 527.9V532.3M269.5 525.3V527.6M271.5 534.7V538.5M273.5 538.9V542.0M275.5 546.6V550.6M276.5 539.3V545.4M279.5 523.9V529.8M280.5 518.8V522.7M283.5 517.3V521.5M284.5 515.1V517.1M287.5 511.2V516.2M288.5 517.7V524.2M291.5 524.5V528.2M292.5 529.8V537.5M295.5 546.1V554.0M296.5 549.0V554.6M298.5 547.4V550.5M300.5 548.1V553.8M302.5 556.4V560.4M304.5 544.3V554.2M306.5 528.0V532.9M308.5 522.9V527.1M310.5 528.1V531.2M311.5 531.2V533.5M314.5 535.7V538.4M315.5 538.4V541.0M318.5 542.7V548.5M322.5 535.4V539.5M323.5 532.3V535.0M326.5 539.0V541.1M327.5 541.6V547.2M330.5 536.8V541.5M331.5 526.5V534.9M334.5 532.1V536.5M335.5 525.8V531.0M337.5 515.0V519.1M339.5 509.1V514.1M341.5 497.1V501.7M345.5 487.0V489.4M346.5 489.9V494.7M350.5 484.6V488.1M353.5 488.2V492.5M354.5 487.5V489.2M357.5 487.2V490.1M358.5 487.8V493.0M361.5 491.0V495.0M362.5 495.4V498.5M365.5 506.5V508.9M366.5 508.6V510.5M369.5 506.5V509.7M370.5 507.2V513.1M372.5 503.6V506.2M374.5 506.3V509.5M376.5 503.1V507.1M378.5 505.7V507.6M380.5 499.3V501.9M382.5 498.2V501.7M384.5 493.4V497.6M385.5 492.9V495.0M388.5 496.9V501.2M389.5 499.7V501.7M392.5 500.0V502.5M405.5 502.1V503.6M407.5 531.2V536.3M413.5 544.8V546.6M415.5 553.7V560.2M417.5 554.8V560.4M419.5 519.8V534.2M420.5 516.5V518.0M423.5 511.9V516.1M427.5 510.7V519.5M428.5 522.9V532.7M431.5 518.5V523.0M432.5 518.6V523.5M436.5 519.1V523.0M439.5 519.5V523.0M440.5 524.0V529.8M442.5 538.0V542.8M444.5 537.6V540.6M446.5 527.6V533.1M448.5 525.4V527.1M452.5 531.2V533.6M454.5 526.8V528.4M455.5 525.7V528.2M458.5 516.8V521.2M459.5 516.7V520.7M462.5 530.5V549.6M463.5 555.4V564.3M466.5 567.3V577.6M467.5 556.2V564.0M470.5 563.6V574.3M471.5 570.9V575.8M474.5 569.8V574.6M475.5 573.0V575.3M478.5 577.9V584.8M479.5 580.9V585.4M481.5 574.1V576.6M483.5 571.0V574.1M485.5 571.5V580.4M487.5 574.2V581.0M489.5 555.9V559.6M490.5 556.0V560.2M493.5 543.2V550.1M494.5 544.0V554.0M497.5 551.9V559.7M498.5 551.4V557.4M501.5 551.4V559.5M502.5 548.3V550.2M505.5 532.4V545.2M506.5 516.1V527.5M509.5 506.1V508.2M510.5 507.3V514.0M513.5 522.0V524.4M514.5 516.7V521.5M518.5 505.6V509.7M520.5 503.5V509.8M522.5 503.3V508.7M524.5 506.6V511.0M526.5 511.3V513.5M528.5 518.4V523.8M529.5 524.4V526.9M532.5 505.0V514.8M536.5 505.7V510.5M537.5 505.1V507.5M540.5 490.5V499.2M541.5 490.5V499.4M544.5 498.7V502.2M545.5 504.3V514.4M549.5 529.7V534.5M551.5 534.5V539.9M553.5 529.0V533.4M555.5 507.5V517.8M557.5 505.6V508.8M559.5 494.4V498.4M563.5 493.1V505.2M564.5 487.3V490.6M567.5 479.9V487.2M568.5 474.6V478.4M571.5 476.1V478.0M572.5 477.3V483.5M575.5 488.6V492.0M576.5 488.4V490.9M579.5 482.8V486.3M580.5 472.3V481.1M583.5 472.5V474.0M584.5 472.7V475.2M586.5 476.6V480.0M588.5 476.7V480.5M590.5 476.5V479.4M592.5 475.6V479.2M594.5 470.0V481.8M596.5 468.0V472.2M598.5 469.3V476.7M599.5 474.8V477.9M602.5 468.4V471.5M606.5 448.2V455.9M607.5 447.8V454.1M610.5 439.1V445.1M611.5 437.0V438.5M614.5 439.2V441.5M615.5 430.7V439.8M618.5 414.9V421.3M619.5 414.3V418.2M621.5 423.8V426.1M623.5 418.1V423.3M625.5 399.6V403.1M627.5 396.4V399.3M629.5 393.2V395.9M631.5 392.8V395.8M633.5 398.7V403.9M634.5 405.8V413.6M637.5 415.3V423.1M638.5 415.6V424.5M641.5 424.5V431.3M642.5 419.8V423.2M645.5 412.4V416.7M649.5 398.4V401.9M650.5 398.8V403.6M654.5 399.9V415.2M657.5 411.8V419.1M658.5 411.7V418.5M660.5 426.9V432.1M664.5 437.3V443.4M666.5 436.9V441.2M668.5 438.4V440.3M669.5 428.4V437.1M672.5 406.9V416.7M673.5 405.0V407.4M676.5 400.0V407.5M677.5 387.9V397.1M680.5 368.1V375.5M681.5 360.3V366.1M684.5 369.6V375.5M685.5 380.3V398.3M688.5 382.0V385.8M689.5 382.8V389.4M692.5 393.8V396.2M693.5 399.0V412.8M695.5 399.9V402.7M697.5 400.4V405.0M699.5 406.4V409.5M701.5 401.8V405.9M703.5 412.8V417.4M705.5 411.0V417.0M707.5 398.1V400.4M711.5 396.8V400.4M712.5 379.9V397.0M715.5 374.4V384.2M716.5 387.1V394.1M719.5 385.6V394.3M720.5 376.0V382.9M723.5 375.7V380.1M724.5 373.1V375.4M728.5 351.9V365.3M730.5 345.1V349.4M732.5 347.8V350.0M734.5 336.4V345.1M736.5 347.5V353.2M738.5 357.7V362.4M740.5 362.8V365.0M742.5 352.5V356.0M743.5 353.1V358.7M746.5 357.7V364.0M747.5 356.7V358.8M750.5 347.3V352.0M751.5 346.6V348.3M755.5 339.9V349.5M758.5 350.0V352.9M759.5 337.0V347.9M762.5 337.7V339.9M763.5 329.9V336.8M765.5 338.0V342.2M767.5 336.9V342.0M771.5 330.0V332.1M773.5 326.7V330.8M775.5 324.5V326.5M777.5 349.3V353.3M778.5 346.4V349.0M781.5 351.2V357.2M785.5 353.9V357.7M786.5 347.5V353.0M793.5 330.2V332.7M794.5 332.4V343.6M797.5 335.5V339.0M798.5 335.4V338.7M801.5 335.1V339.6M802.5 334.5V336.8M804.5 317.0V330.2M806.5 311.7V314.3M810.5 323.4V328.3M812.5 318.9V321.2M813.5 322.9V332.7M816.5 325.1V332.8M817.5 324.4V329.4M820.5 322.3V325.7M821.5 321.9V324.0M824.5 324.0V327.9M825.5 329.4V336.8M828.5 325.4V331.3M829.5 324.5V326.5M832.5 333.2V335.6M833.5 332.6V335.5M836.5 323.8V325.6M837.5 318.9V323.5M839.5 321.1V325.9M841.5 318.6V320.7M843.5 327.7V331.3M845.5 331.4V333.5M847.5 334.7V336.5M848.5 334.7V336.5M851.5 332.7V338.9M855.5 334.6V339.6M856.5 340.4V343.9M859.5 347.0V352.4M860.5 349.2V352.8M864.5 340.0V346.1M867.5 332.6V339.1M868.5 327.0V331.2M871.5 327.7V330.8M872.5 321.9V327.0M874.5 320.5V326.4M876.5 325.8V327.5M880.5 314.2V317.2M882.5 317.8V319.5M884.5 318.8V324.3M886.5 322.7V325.7M887.5 322.3V324.1M890.5 321.4V324.6M891.5 319.3V321.4M894.5 314.1V320.9M895.5 302.5V311.4M898.5 300.5V303.2M899.5 303.4V306.8M902.5 303.1V306.0M903.5 300.5V303.1M906.5 302.9V307.6M907.5 306.6V308.4M909.5 303.4V305.3M911.5 303.7V306.7M913.5 311.9V314.0M915.5 308.1V311.8M917.5 309.5V313.2M921.5 314.8V316.4M925.5 313.2V320.0M926.5 311.9V313.5M929.5 315.0V320.6M930.5 321.5V324.8M933.5 325.1V328.6M934.5 325.1V328.4M938.5 333.2V337.1M942.5 338.1V340.8M944.5 336.0V337.8M946.5 338.8V346.0M950.5 355.4V358.3M952.5 347.4V351.2M954.5 344.5V347.2M956.5 349.9V351.7M964.5 348.4V350.8M965.5 351.4V357.1M968.5 354.8V357.5M969.5 358.5V364.7M972.5 391.8V396.3M973.5 380.4V393.9M976.5 372.0V375.6M977.5 377.5V386.7M980.5 358.9V366.9M983.5 346.5V350.5M985.5 344.2V346.3M989.5 338.5V341.4M991.5 336.3V339.9M995.5 338.8V340.3M996.5 339.6V341.1M999.5 342.1V344.8M1003.5 333.7V340.0M1004.5 326.5V332.0M1007.5 322.1V324.0M1008.5 320.5V323.7M1012.5 320.0V322.9M1015.5 309.3V314.2M1016.5 306.0V308.7M1018.5 310.5V315.4M1020.5 310.7V315.4" stroke="#102a2a" stroke-opacity="0.55" stroke-width="1.5" fill="none"/>
<path d="M1022.9 212.0V318.0M1027.6 199.5V237.0M1034.1 212.7V221.5M1035.2 106.0V126.4M1037.8 149.3V156.0M1043.1 269.0V275.0M1043.1 332.4V362.4M1047.3 255.0V275.0M1050.1 326.0V386.0M1052.3 306.0V319.0M1052.3 348.3V364.0M1056.1 324.5V329.8M1057.9 361.5V368.5M1059.6 363.2V368.5M1061.4 336.0V343.9M1061.4 359.7V387.0M1064.9 339.5V358.0M1066.4 432.8V454.0M1069.0 392.3V397.6M1070.3 505.9V522.6M1075.2 432.0V451.3M1074.4 532.7V545.4M1071.0 500.0V522.0M1078.2 523.2V529.6M1078.2 561.3V579.0M1079.6 550.7V588.7M1083.2 548.6V564.4M1083.2 627.8V640.5M1085.8 555.4V581.3M1090.9 684.0V690.7M1090.9 725.8V732.6M1095.0 637.4V675.9M1096.3 724.5V729.0M1097.9 660.4V673.2M1101.7 664.4V675.2M1101.7 723.0V731.9M1104.0 678.6V694.8M1105.4 588.7V608.8M1105.6 632.0V641.6M1108.2 609.9V628.9M1112.8 545.4V551.8M1117.0 658.3V663.7M1122.9 617.3V634.0M1126.0 632.0V640.1M1126.0 652.3V667.1M1130.1 612.0V620.0M1136.1 520.0V525.4M1142.8 599.3V614.0M1148.3 533.8V539.0M1152.5 593.0V601.4M1156.6 553.2V563.2M1156.6 575.3V580.6M1158.4 560.0V563.0M1160.8 573.2V585.4M1162.2 578.0V585.9M1166.1 602.3V610.2M1168.7 622.9V634.5M1174.0 591.2V593.3M1179.3 602.8V605.4M1180.9 572.2V574.8M1183.0 574.3V578.5M1192.0 597.5V601.7M1197.0 601.7V607.6M1199.9 623.9V627.6M1204.6 592.2V595.4M1207.0 622.9V627.6M1211.0 601.2V603.9M1212.6 599.0V601.7M1215.4 587.0V591.2M1218.0 598.6V604.4M1219.6 588.0V590.7M1231.0 592.8V593.8M1042.3 259.7V276.8M1042.3 328.3V345.5M1046.2 279.1V293.5M1046.2 336.9V351.4M1051.4 314.4V326.2M1051.4 361.5V373.2M1055.3 324.5V330.7M1055.3 349.3V355.5M1060.5 344.8V351.3M1060.5 370.8V377.3M1068.2 400.6V412.7M1068.2 449.3V461.4M1072.1 486.4V491.8M1072.1 508.0V513.4M1076.0 456.9V474.6M1076.0 527.7V545.3M1077.3 496.3V510.1M1077.3 551.6V565.4M1094.2 657.4V671.1M1094.2 712.1V725.8M1107.1 608.8V613.8M1107.1 629.0V634.0M1109.7 563.7V572.3M1109.7 598.1V606.8M1113.6 573.3V584.0M1113.6 615.9V626.5M1116.2 641.0V648.5M1116.2 671.1V678.6M1120.1 670.6V678.6M1120.1 702.4V710.4M1129.2 595.9V603.5M1129.2 626.3V633.9M1133.1 558.6V564.0M1133.1 580.2V585.6M1137.0 524.1V531.4M1137.0 553.2V560.4M1144.8 553.2V561.2M1144.8 585.3V593.3M1147.4 538.2V548.5M1147.4 579.1V589.4M1151.2 571.4V577.2M1151.2 594.4V600.1M1153.8 570.1V573.8M1153.8 584.9V588.6M1164.2 604.1V608.8M1164.2 622.9V627.6M1178.5 571.1V576.4M1178.5 592.3V597.6M1194.0 586.8V588.6M1194.0 594.3V596.1M1222.6 590.7V592.2M1222.6 596.9V598.4M1226.5 593.1V594.4M1226.5 598.2V599.5" stroke="#9a9a9a" stroke-width="1.2" fill="none"/>
<path d="M1026.2 237.0V396.0M1032.0 205.6V272.0M1034.1 152.8V212.7M1047.3 275.0V351.0M1052.3 319.0V348.3M1059.6 352.7V363.2M1069.0 397.6V450.4M1073.5 469.8V503.0M1083.2 564.4V627.8M1096.3 684.0V724.5M1097.9 673.2V693.4M1104.0 631.0V678.6M1105.4 608.8V632.0M1108.2 593.0V609.9M1110.7 545.4V593.0M1119.3 688.0V712.3M1121.3 645.5V707.6M1128.0 597.2V652.3M1132.3 565.5V593.0M1134.0 550.7V577.1M1136.1 525.4V563.4M1145.6 546.5V584.5M1154.7 567.6V580.3M1156.6 563.2V575.3M1160.8 585.4V596.0M1165.0 611.2V627.6M1169.8 600.7V622.9M1171.9 590.7V608.6M1177.7 570.6V590.1M1180.9 574.8V603.3M1187.7 592.2V602.3M1189.0 582.2V594.4M1192.0 592.2V597.5M1202.0 596.5V610.7M1203.6 596.5V602.8M1209.0 613.4V622.9M1210.1 606.0V614.4M1211.0 603.9V609.7M1213.9 599.6V603.9M1218.0 592.2V598.6M1219.6 590.7V593.3M1229.4 596.5V599.6M1046.2 293.5V336.9M1051.4 326.2V361.5M1068.2 412.7V449.3M1072.1 491.8V508.0M1094.2 671.1V712.1M1107.1 613.8V629.0M1109.7 572.3V598.1M1120.1 678.6V702.4M1129.2 603.5V626.3M1133.1 564.0V580.2M1144.8 561.2V585.3M1147.4 548.5V579.1M1153.8 573.8V584.9" stroke="#2c8a8c" stroke-width="1.45" fill="none"/>
<path d="M1022.9 318.0V402.0M1037.8 156.0V237.3M1040.3 236.4V303.4M1044.9 307.0V351.8M1056.1 329.8V359.7M1057.9 343.9V361.5M1065.2 358.0V438.0M1069.0 450.4V464.5M1070.3 464.5V505.9M1078.2 529.6V561.3M1081.8 550.7V594.0M1085.8 581.3V641.6M1087.5 618.3V669.0M1088.6 635.4V698.8M1090.9 690.7V725.8M1100.0 674.5V702.9M1112.8 551.8V590.9M1114.5 602.5V663.7M1117.0 663.7V685.3M1118.3 675.9V712.3M1124.0 646.2V661.7M1138.6 531.7V555.0M1140.3 560.2V612.0M1148.3 539.0V592.0M1158.4 563.0V578.5M1159.2 578.5V594.4M1162.9 592.2V627.6M1167.5 618.6V624.0M1175.4 579.6V592.8M1179.3 571.6V584.8M1183.0 578.5V593.3M1184.6 581.7V599.6M1190.9 583.8V596.5M1195.7 588.5V595.4M1198.3 594.4V601.7M1199.9 599.1V623.9M1204.6 595.4V606.0M1205.7 601.7V612.3M1207.0 611.2V622.9M1221.7 590.7V596.5M1225.7 591.2V598.6M1232.6 597.5V604.4M1042.3 276.8V328.3M1055.3 330.7V349.3M1060.5 351.3V370.8M1076.0 474.6V527.7M1077.3 510.1V551.6M1113.6 584.0V615.9M1116.2 648.5V671.1M1137.0 531.4V553.2M1151.2 577.2V594.4M1164.2 608.8V622.9M1178.5 576.4V592.3M1194.0 588.6V594.3M1222.6 592.2V596.9M1226.5 594.4V598.2" stroke="#8e5a5c" stroke-width="1.45" fill="none"/>
<path d="M1025.2 396.0V407.0M1027.6 237.0V296.0M1030.8 236.0V278.0M1035.2 126.4V156.3M1043.1 275.0V332.4M1048.7 287.5V335.0M1054.0 324.5V349.0M1061.4 343.9V359.7M1062.8 349.0V359.7M1066.4 420.5V432.8M1075.2 454.0V532.7M1092.3 702.9V725.8M1095.0 675.9V725.8M1101.7 675.2V723.0M1122.9 634.0V660.6M1126.0 640.1V652.3M1130.1 595.0V612.0M1142.8 568.7V599.3M1150.4 569.7V599.3M1152.5 574.0V593.0M1162.2 585.9V596.5M1166.1 610.2V622.9M1170.8 598.6V611.2M1174.0 576.4V591.2M1179.3 584.8V602.8M1186.7 595.4V602.3M1193.2 585.9V596.5M1197.0 593.3V601.7M1200.9 610.2V623.9M1212.6 601.7V606.5M1215.4 591.2V599.6M1223.6 590.7V600.7M1227.6 595.9V600.7M1231.0 593.8V599.6" stroke="#2a4444" stroke-width="1.45" fill="none"/>
<rect x="698" y="105" width="541" height="626" fill="rgba(128,128,128,0.28)" stroke="#b5b5b5" stroke-width="2"/>
<rect x="173" y="347" width="525" height="241" fill="rgba(76,175,80,0.2)" stroke="#b5b5b5" stroke-width="2"/>
<rect x="-9" y="230" width="26" height="213.5" fill="rgba(255,152,0,0.2)" stroke="#b5b5b5" stroke-width="2"/>
<rect x="17" y="333" width="156" height="153" fill="rgba(0,188,212,0.2)" stroke="#b5b5b5" stroke-width="2"/>
<rect x="172" y="346" width="2" height="141" fill="#b5b5b5"/>
<line x1="1025" y1="200" x2="1025" y2="684" stroke="#9a9a9a" stroke-width="1.7"/>
<line x1="-4.5" y1="337.5" x2="16" y2="337.5" stroke="#ff9800" stroke-width="1.2" stroke-dasharray="5.5 5.5"/>
<path d="M18.0 409.5H22.5M28.0 409.5H33.5M39.0 409.5H44.5M50.0 409.5H55.5M61.0 409.5H66.5M72.0 409.5H77.5" stroke="#a21caf" stroke-width="1.1" fill="none"/>
<path d="M109.5 409.5H111.5M117.0 409.5H122.5M128.0 409.5H133.5M139.0 409.5H144.5M150.0 409.5H155.5M161.0 409.5H166.5" stroke="#a21caf" stroke-width="1.1" fill="none"/>
<path d="M174.0 467.5H178.5M184.0 467.5H189.5M195.0 467.5H200.5M206.0 467.5H211.5M217.0 467.5H222.5M228.0 467.5H233.5M239.0 467.5H244.5M250.0 467.5H255.5M261.0 467.5H266.5M272.0 467.5H277.5M283.0 467.5H288.5M294.0 467.5H299.5M305.0 467.5H310.5M316.0 467.5H321.5M327.0 467.5H332.5M338.0 467.5H343.5M349.0 467.5H354.5M360.0 467.5H365.5M371.0 467.5H376.5M382.0 467.5H387.5M393.0 467.5H398.5M404.0 467.5H409.5M415.0 467.5H416.5" stroke="#a21caf" stroke-width="1.1" fill="none"/>
<path d="M459.0 467.5H464.5M470.0 467.5H475.5M481.0 467.5H486.5M492.0 467.5H497.5M503.0 467.5H508.5M514.0 467.5H519.5M525.0 467.5H530.5M536.0 467.5H541.5M547.0 467.5H552.5M558.0 467.5H563.5M569.0 467.5H574.5M580.0 467.5H585.5M591.0 467.5H596.5M602.0 467.5H607.5M613.0 467.5H618.5M624.0 467.5H629.5M635.0 467.5H640.5M646.0 467.5H651.5M657.0 467.5H662.5M668.0 467.5H673.5M679.0 467.5H684.5M690.0 467.5H695.5" stroke="#a21caf" stroke-width="1.1" fill="none"/>
<path d="M699.0 418.5H704.5M710.0 418.5H715.5M721.0 418.5H726.5M732.0 418.5H737.5M743.0 418.5H748.5M754.0 418.5H759.5M765.0 418.5H770.5M776.0 418.5H781.5M787.0 418.5H792.5M798.0 418.5H803.5M809.0 418.5H814.5M820.0 418.5H825.5M831.0 418.5H836.5M842.0 418.5H847.5M853.0 418.5H858.5M864.0 418.5H869.5M875.0 418.5H880.5M886.0 418.5H891.5M897.0 418.5H902.5M908.0 418.5H913.5M919.0 418.5H924.5M930.0 418.5H935.5M941.0 418.5H946.5M952.0 418.5H957.5M963.0 418.5H968.5M974.0 418.5H979.5M985.0 418.5H990.5M996.0 418.5H1001.5" stroke="#a21caf" stroke-width="1.1" fill="none"/>
<path d="M1030.5 418.5H1034.5M1040.0 418.5H1045.5M1051.0 418.5H1056.5M1062.0 418.5H1067.5M1073.0 418.5H1078.5M1084.0 418.5H1089.5M1095.0 418.5H1100.5M1106.0 418.5H1111.5M1117.0 418.5H1122.5M1128.0 418.5H1133.5M1139.0 418.5H1144.5M1150.0 418.5H1155.5M1161.0 418.5H1166.5M1172.0 418.5H1177.5M1183.0 418.5H1188.5M1194.0 418.5H1199.5M1205.0 418.5H1210.5M1216.0 418.5H1221.5M1227.0 418.5H1232.5" stroke="#a21caf" stroke-width="1.1" fill="none"/>
<text x="176.5" y="510.8" fill="#f23645" font-size="13.5" font-weight="bold" letter-spacing="0.3" text-anchor="start">£1.93 Van</text>
<path d="M52.9 386L63.2 396.3H58.3V406.6H47.5V396.3H42.599999999999994Z" fill="#089981"/>
<path d="M53.7 397L64.0 407.3H59.1V417.6H48.300000000000004V407.3H43.400000000000006Z" fill="#089981"/>
<path d="M57.6 407.7L67.9 418.0H63.0V428.3H52.2V418.0H47.3Z" fill="#089981"/>
<path d="M65 418L75.3 428.3H70.4V438.6H59.6V428.3H54.7Z" fill="#089981"/>
<path d="M153.7 458L164.0 468.3H159.1V478.6H148.29999999999998V468.3H143.39999999999998Z" fill="#089981"/>
<path d="M186.2 470L196.5 480.3H191.6V490.6H180.79999999999998V480.3H175.89999999999998Z" fill="#089981"/>
<path d="M197 473.7L207.3 484.0H202.4V494.3H191.6V484.0H186.7Z" fill="#089981"/>
<path d="M210.5 499L220.8 509.3H215.9V519.6H205.1V509.3H200.2Z" fill="#089981"/>
<path d="M266.6 550L276.90000000000003 560.3H272.0V570.5999999999999H261.20000000000005V560.3H256.3Z" fill="#089981"/>
<path d="M357.6 499L367.90000000000003 509.3H363.0V519.6H352.20000000000005V509.3H347.3Z" fill="#089981"/>
<path d="M383.8 509.2L394.1 519.5H389.2V529.8H378.40000000000003V519.5H373.5Z" fill="#089981"/>
<path d="M400.9 488.6L411.2 498.90000000000003H406.29999999999995V509.20000000000005H395.5V498.90000000000003H390.59999999999997Z" fill="#089981"/>
<path d="M418.8 561L429.1 571.3H424.2V581.5999999999999H413.40000000000003V571.3H408.5Z" fill="#089981"/>
<path d="M629.4 399.8L639.6999999999999 410.1H634.8V420.40000000000003H624.0V410.1H619.1Z" fill="#089981"/>
<path d="M664.4 447.3L674.6999999999999 457.6H669.8V467.90000000000003H659.0V457.6H654.1Z" fill="#089981"/>
<path d="M90.7 404L101.0 393.2H96.10000000000001V383.2H85.3V393.2H80.4Z" fill="#db2f3d"/>
<line x1="269" y1="552" x2="277" y2="610" stroke="#8a8a8a" stroke-opacity="0.6" stroke-width="1" stroke-dasharray="4 4"/>
<line x1="420" y1="555" x2="428" y2="600" stroke="#8a8a8a" stroke-opacity="0.6" stroke-width="1" stroke-dasharray="4 4"/>
<line x1="633" y1="399" x2="655" y2="415" stroke="#8a8a8a" stroke-opacity="0.6" stroke-width="1" stroke-dasharray="4 4"/>
<line x1="614" y1="438" x2="664" y2="456" stroke="#8a8a8a" stroke-opacity="0.6" stroke-width="1" stroke-dasharray="4 4"/>
<line x1="384" y1="510" x2="395" y2="528" stroke="#8a8a8a" stroke-opacity="0.6" stroke-width="1" stroke-dasharray="4 4"/>
<line x1="399" y1="509" x2="406" y2="527" stroke="#8a8a8a" stroke-opacity="0.6" stroke-width="1" stroke-dasharray="4 4"/>
<rect x="611.4" y="436.8" width="57.2" height="9.9" fill="#808080" fill-opacity="0.18"/>
<rect x="611.4" y="446.7" width="57.2" height="10.3" fill="#4caf50" fill-opacity="0.10"/>
<line x1="611.4" y1="436.8" x2="668.6" y2="436.8" stroke="#7b7b7b" stroke-width="2"/>
<line x1="611.4" y1="446.7" x2="668.6" y2="446.7" stroke="#a3d7a0" stroke-width="2"/>
<line x1="611.4" y1="457" x2="668.6" y2="457" stroke="#7d7478" stroke-width="2"/>
<rect x="176.5" y="456.8" width="18.5" height="10.4" fill="#808080" fill-opacity="0.18"/>
<rect x="176.5" y="467.2" width="18.5" height="10.8" fill="#4caf50" fill-opacity="0.10"/>
<line x1="176.5" y1="456.8" x2="195" y2="456.8" stroke="#7b7b7b" stroke-width="2"/>
<line x1="176.5" y1="467.2" x2="195" y2="467.2" stroke="#a3d7a0" stroke-width="2"/>
<line x1="176.5" y1="478" x2="192" y2="478" stroke="#7d7478" stroke-width="2"/>
<line x1="641.6" y1="418" x2="641.6" y2="457" stroke="#7a6560" stroke-width="1.2"/>
<text x="88" y="414.6" fill="#ee4a58" font-size="14.8" textLength="14.2" lengthAdjust="spacingAndGlyphs">FF</text>
<rect x="56.3" y="319" width="11.0" height="66.3" fill="#089981" fill-opacity="0.2"/>
<rect x="56.3" y="319" width="11.0" height="1" fill="#089981" fill-opacity="0.25"/>
<rect x="56.3" y="385.3" width="11.0" height="42.7" fill="#f23645" fill-opacity="0.2"/>
<line x1="45" y1="385.3" x2="67.3" y2="385.3" stroke="#7d7d7d" stroke-width="1.3"/>
<rect x="90" y="376.4" width="12.2" height="28.4" fill="#f23645" fill-opacity="0.2"/>
<rect x="90" y="376.4" width="12.2" height="1" fill="#f23645" fill-opacity="0.25"/>
<rect x="90" y="404.8" width="12.2" height="207" fill="#4caf50" fill-opacity="0.27"/>
<rect x="90" y="404.8" width="12.2" height="18" fill="#4caf50" fill-opacity="0.3"/>
<line x1="89.5" y1="404.8" x2="102.2" y2="404.8" stroke="#6f6f6f" stroke-width="1.5"/>
<line x1="98" y1="404.2" x2="104" y2="404.2" stroke="#f23645" stroke-width="1.6"/>
<rect x="159" y="362" width="13.5" height="94.8" fill="#089981" fill-opacity="0.2"/>
<rect x="159" y="362" width="13.5" height="1" fill="#089981" fill-opacity="0.25"/>
<rect x="159" y="456.8" width="13.5" height="20.7" fill="#f23645" fill-opacity="0.2"/>
<line x1="152" y1="456.8" x2="172.5" y2="456.8" stroke="#7d7d7d" stroke-width="1.3"/>
<rect x="183.3" y="361" width="11.7" height="108.5" fill="#089981" fill-opacity="0.2"/>
<rect x="183.3" y="361" width="11.7" height="1" fill="#089981" fill-opacity="0.25"/>
<rect x="183.3" y="469.5" width="11.7" height="11.5" fill="#f23645" fill-opacity="0.2"/>
<rect x="197" y="392" width="12.0" height="81.3" fill="#089981" fill-opacity="0.2"/>
<rect x="197" y="392" width="12.0" height="1" fill="#089981" fill-opacity="0.25"/>
<rect x="197" y="473.3" width="12.0" height="25.7" fill="#f23645" fill-opacity="0.2"/>
<line x1="193" y1="473.3" x2="209" y2="473.3" stroke="#7d7d7d" stroke-width="1.3"/>
<rect x="210.5" y="392" width="13.5" height="105.5" fill="#089981" fill-opacity="0.2"/>
<rect x="210.5" y="392" width="13.5" height="1" fill="#089981" fill-opacity="0.25"/>
<rect x="210.5" y="497.5" width="13.5" height="21.3" fill="#f23645" fill-opacity="0.2"/>
<line x1="210" y1="497.5" x2="224" y2="497.5" stroke="#7d7d7d" stroke-width="1.3"/>
<rect x="267.3" y="179" width="18.0" height="370.0" fill="#089981" fill-opacity="0.2"/>
<rect x="267.3" y="179" width="18.0" height="1" fill="#089981" fill-opacity="0.25"/>
<rect x="267.3" y="549" width="18.0" height="65.4" fill="#f23645" fill-opacity="0.2"/>
<line x1="265.5" y1="549" x2="285.3" y2="549" stroke="#7d7d7d" stroke-width="1.3"/>
<rect x="273.4" y="515.8" width="11.9" height="33.2" fill="#089981" fill-opacity="0.2"/>
<rect x="267.3" y="549" width="11" height="65.4" fill="#f23645" fill-opacity="0.07"/>
<rect x="357.3" y="403.4" width="18.8" height="95.0" fill="#089981" fill-opacity="0.2"/>
<rect x="357.3" y="403.4" width="18.8" height="1" fill="#089981" fill-opacity="0.25"/>
<rect x="357.3" y="498.4" width="18.8" height="9.6" fill="#f23645" fill-opacity="0.2"/>
<line x1="357" y1="498.4" x2="376.1" y2="498.4" stroke="#7d7d7d" stroke-width="1.3"/>
<rect x="382.2" y="402" width="29.8" height="105.2" fill="#089981" fill-opacity="0.2"/>
<rect x="382.2" y="402" width="29.8" height="1" fill="#089981" fill-opacity="0.25"/>
<rect x="382.2" y="507.2" width="29.8" height="21.6" fill="#f23645" fill-opacity="0.2"/>
<line x1="382" y1="507.2" x2="412" y2="507.2" stroke="#7d7d7d" stroke-width="1.3"/>
<rect x="398.3" y="507.2" width="8.2" height="21.6" fill="#f23645" fill-opacity="0.25"/>
<rect x="417.2" y="178" width="21.3" height="374.3" fill="#089981" fill-opacity="0.2"/>
<rect x="417.2" y="178" width="21.3" height="1" fill="#089981" fill-opacity="0.25"/>
<rect x="417.2" y="552.3" width="21.3" height="63.3" fill="#f23645" fill-opacity="0.2"/>
<line x1="417" y1="552.3" x2="438.5" y2="552.3" stroke="#7d7d7d" stroke-width="1.3"/>
<rect x="417.2" y="552.3" width="12.3" height="63.3" fill="#f23645" fill-opacity="0.07"/>
<rect x="417.2" y="513.7" width="12.3" height="38.6" fill="#089981" fill-opacity="0.12"/>
<rect x="631.2" y="185.2" width="25.1" height="212.3" fill="#089981" fill-opacity="0.2"/>
<rect x="631.2" y="185.2" width="25.1" height="1" fill="#089981" fill-opacity="0.25"/>
<rect x="631.2" y="397.5" width="25.1" height="271.5" fill="#f23645" fill-opacity="0.2"/>
<line x1="631" y1="397.5" x2="656.3" y2="397.5" stroke="#7d7d7d" stroke-width="1.3"/>
<rect x="631.2" y="397.5" width="25.1" height="18.3" fill="#f23645" fill-opacity="0.2"/>
<rect x="663.3" y="178.2" width="21.9" height="267.8" fill="#089981" fill-opacity="0.2"/>
<rect x="663.3" y="178.2" width="21.9" height="1" fill="#089981" fill-opacity="0.25"/>
<rect x="663.3" y="446" width="21.9" height="21.0" fill="#f23645" fill-opacity="0.2"/>
<line x1="663" y1="446" x2="685.2" y2="446" stroke="#7d7d7d" stroke-width="1.3"/>
<line x1="44.7" y1="399.6" x2="49.8" y2="399.6" stroke="#b9d8a2" stroke-width="1.6"/>
<line x1="45" y1="415.8" x2="48" y2="415.8" stroke="#8d6e6e" stroke-width="1.6"/>
<line x1="89.1" y1="385" x2="98.6" y2="385" stroke="#8a7a80" stroke-width="2"/>
<line x1="89.1" y1="395" x2="98.6" y2="395" stroke="#c8d8a0" stroke-width="2"/>
<line x1="153" y1="462" x2="162" y2="462" stroke="#b9d8a2" stroke-width="2"/>
<line x1="153" y1="467" x2="162" y2="467" stroke="#b8676a" stroke-width="2"/>
<line x1="176" y1="478" x2="192" y2="478" stroke="#87707a" stroke-width="2"/>
<line x1="183.3" y1="478" x2="192" y2="478" stroke="#b8676a" stroke-width="2"/>
<line x1="193" y1="488" x2="202" y2="488" stroke="#b8676a" stroke-width="2"/>
<line x1="193" y1="493" x2="202" y2="493" stroke="#c8dca0" stroke-width="2"/>
<line x1="193" y1="498" x2="202" y2="498" stroke="#87707a" stroke-width="2"/>
<line x1="210" y1="503" x2="216" y2="503" stroke="#d8d0a0" stroke-width="2"/>
<line x1="210" y1="508" x2="216" y2="508" stroke="#b8676a" stroke-width="2"/>
<line x1="265.5" y1="580" x2="278" y2="580" stroke="#b9d8a2" stroke-width="1.6"/>
<line x1="265.5" y1="611" x2="278" y2="611" stroke="#7a5a62" stroke-width="2"/>
<line x1="381" y1="512.9" x2="393" y2="512.9" stroke="#d8d0a0" stroke-width="2"/>
<line x1="381" y1="518.1" x2="393" y2="518.1" stroke="#b8676a" stroke-width="2"/>
<line x1="418" y1="560" x2="429.5" y2="560" stroke="#7a5a62" stroke-width="2"/>
<line x1="418" y1="580" x2="429.5" y2="580" stroke="#c8d8a0" stroke-width="2"/>
<line x1="418" y1="601" x2="429.5" y2="601" stroke="#7a5a62" stroke-width="2"/>
<text x="43.6" y="440.8" fill="#f23645" font-size="13.5" font-weight="bold" letter-spacing="0.3" text-anchor="start">£7.59 Van</text>
<text x="197.8" y="535.8" fill="#f23645" font-size="13.5" font-weight="bold" letter-spacing="0.3" text-anchor="start">£2.52 Van</text>
<text x="320.5" y="483.5" fill="#f23645" font-size="13.5" font-weight="bold" letter-spacing="0.3" text-anchor="start">£2.80 Van</text>
<text x="611.4" y="519.7" fill="#f23645" font-size="13.5" font-weight="bold" letter-spacing="0.3" text-anchor="start">£19.00 Van</text>
<text x="659.6" y="488.8" fill="#4caf50" font-size="13.5" font-weight="bold" letter-spacing="0.3" text-anchor="start">£1.75 Van</text>
<text x="435.7" y="472.8" fill="#ee4a58" font-size="14.8" font-weight="normal" letter-spacing="-0.5" text-anchor="middle">LDN</text>
<text x="1016.6" y="423.9" fill="#f4475a" font-size="14.8" font-weight="normal" letter-spacing="-0.5" text-anchor="middle">NY</text>
<path d="M642.6 518V670.5H1025" stroke="#f23645" stroke-width="3" fill="none" stroke-linejoin="round" stroke-linecap="round"/>
<path d="M1229.4 617.6L1233 613.6V617.6Z" fill="#089981"/>
</svg></div>
<div id="hline"></div>
<div id="vline"></div>
<div id="paxis"><div style="position:absolute;left:0;top:34px;width:16px;height:734px;overflow:hidden"><div style="position:absolute;left:0;top:-61px;width:16px;height:852px">
<div class="pl" style="top:52px;background:#089981">3,</div>
<div class="pl" style="top:69px;background:#089981">3,</div>
<div class="pl" style="top:86px;background:#f23645">3,</div>
<div class="pl" style="top:103px;background:#f23645">3,</div>
<div class="pl" style="top:120px;background:#808080">3,</div>
<div class="pl" style="top:137px;background:#808080">3,</div>
<div class="pl" style="top:154px;background:#f23645">3,</div>
<div class="pl" style="top:171px;background:#808080">3,</div>
<div class="pl" style="top:188px;background:#808080">3,</div>
<div class="pl" style="top:205px;background:#808080">3,</div>
<div class="pl" style="top:222px;background:#089981">3,</div>
<div class="pl" style="top:239px;background:#f23645">3,</div>
<div class="pl" style="top:256px;background:#f23645">3,</div>
<div class="pl" style="top:273px;background:#089981">3,</div>
<div class="pl" style="top:290px;background:#f23645">3,</div>
<div class="pl" style="top:307px;background:#808080">3,</div>
<div class="pl" style="top:324px;background:#808080">3,</div>
<div class="pl" style="top:341px;background:#f23645">3,</div>
<div class="pl" style="top:358px;background:#808080">3,</div>
<div class="pl" style="top:375px;background:#f23645">3,</div>
<div class="pl" style="top:392px;background:#808080">3,</div>
<div class="pl" style="top:409px;background:#f23645">3,</div>
<div class="pl" style="top:426px;background:#089981">3,</div>
<div class="pl" style="top:443px;background:#f23645">3,</div>
<div class="pl" style="top:460px;background:#f23645">3,</div>
<div class="pl" style="top:477px;background:#089981">3,</div>
<div class="pl" style="top:494px;background:#808080">3,</div>
<div class="pl" style="top:511px;background:#808080">3,</div>
<div class="pl" style="top:528px;background:#808080">3,</div>
<div class="pl" style="top:545px;background:#089981">3,</div>
<div class="pl" style="top:562px;background:#089981">3,</div>
<div class="pl" style="top:579px;background:#808080">3,</div>
<div class="pl cur" style="top:596px">3,</div>
<div class="pl" style="top:613px;background:#808080">3,</div>
<div class="pl" style="top:630px;background:#f23645">3,</div>
<div class="pl" style="top:647px;background:#f23645">3,</div>
<div class="pl" style="top:664px;background:#089981">3,</div>
<div class="pl" style="top:681px;background:#089981">3,</div>
<div class="pl" style="top:698px;background:#f23645">3,</div>
<div class="pl" style="top:715px;background:#089981">3,</div>
<div class="pl" style="top:732px;background:#808080">3,</div>
<div class="pl" style="top:749px;background:#808080">3,</div>
<div class="pl" style="top:766px;background:#f23645">3,</div>
<div class="pl" style="top:783px;background:#089981">3,</div>
</div></div><div id="usd">U</div></div>
<div class="tl" style="left:-9.1px">06:00</div>
<div class="tl" style="left:68.7px">07:00</div>
<div class="tl" style="left:146.6px">08:00</div>
<div class="tl" style="left:224.4px">09:00</div>
<div class="tl" style="left:302.2px">10:00</div>
<div class="tl" style="left:380.0px">11:00</div>
<div class="tl" style="left:457.9px">12:00</div>
<div class="tl" style="left:535.7px">13:00</div>
<div class="tl" style="left:613.5px">14:00</div>
<div class="tl" style="left:691.4px">15:00</div>
<div class="tl" style="left:769.2px">16:00</div>
<div class="tl" style="left:847.0px">17:00</div>
<div class="tl" style="left:924.9px">18:00</div>
<div class="tl" style="left:1002.7px">19:00</div>
<div class="tl" style="left:1080.5px">20:00</div>
<div class="tl" style="left:1158.4px">21:00</div>
<div id="top"></div><div id="bot"></div>
</body></html>
